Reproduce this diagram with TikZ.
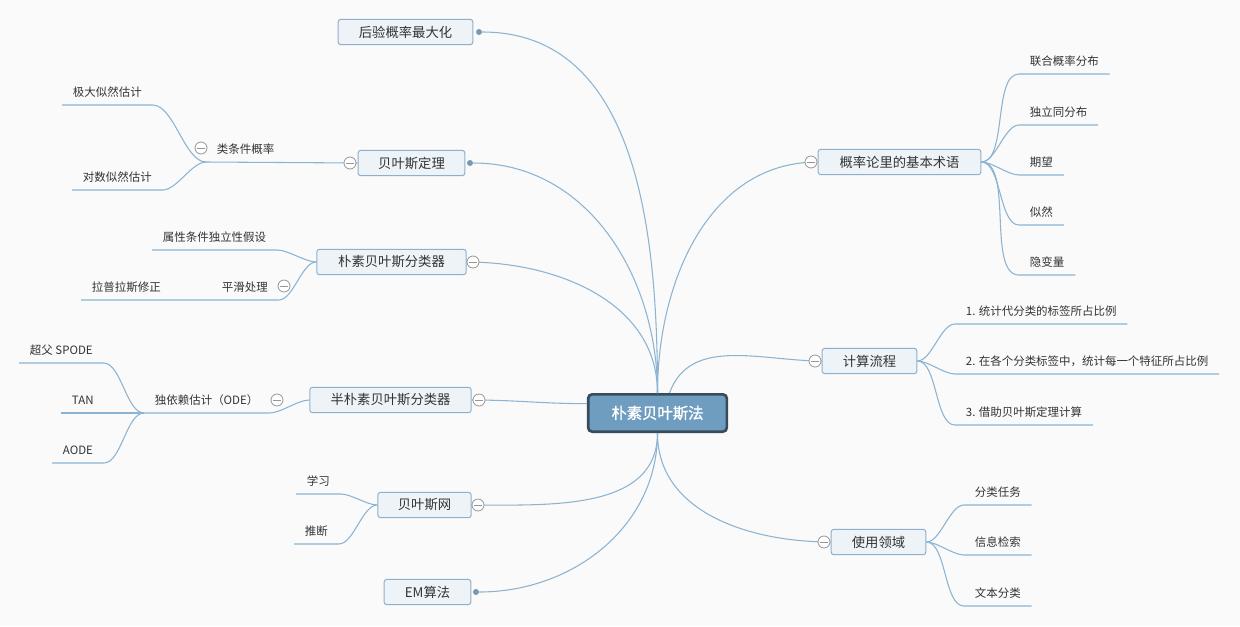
\documentclass[tikz,border=0pt]{standalone}
\usepackage{fontspec}
\usepackage{xcolor}
\usepackage{tikz}
\usetikzlibrary{positioning}
\newfontfamily\cjk{Noto Sans CJK SC}
\newfontfamily\cjkbold{Noto Sans CJK SC}[FakeBold=1.5]
\definecolor{bgcanvas}{RGB}{250,250,250}
\definecolor{mapline}{RGB}{140,180,210}
\definecolor{topicborder}{RGB}{142,176,204}
\definecolor{topicfill}{RGB}{238,243,248}
\definecolor{rootfill}{RGB}{110,157,192}
\definecolor{rootborder}{RGB}{58,76,92}
\definecolor{foldgray}{RGB}{150,150,150}
\definecolor{textdark}{RGB}{51,51,51}

\begin{document}
\begin{tikzpicture}[
    x=0.75pt, y=-0.75pt,
    font=\cjk, text=textdark,
    box_root/.style={rounded corners=3pt, line width=2pt, draw=rootborder, fill=rootfill, text=white, minimum width=104pt, minimum height=28pt, inner sep=0pt, font=\cjkbold\fontsize{11.5}{14}\selectfont},
    box_topic/.style={rounded corners=2pt, line width=0.75pt, draw=topicborder, fill=topicfill, minimum height=19pt, inner sep=0pt, font=\cjk\fontsize{10}{12}\selectfont},
    leaf/.style={anchor=south west, inner xsep=8pt, inner ysep=4.5pt, text height=7pt, text depth=2pt, font=\cjk\fontsize{8.6}{10}\selectfont},
    fold/.style={circle, draw=foldgray, fill=white, line width=0.6pt, minimum size=9pt, inner sep=0pt,
        path picture={\draw[foldgray, line width=0.6pt] ([xshift=1.7pt]path picture bounding box.west) -- ([xshift=-1.7pt]path picture bounding box.east);}},
    dot/.style={circle, fill=mapline!85!black, minimum size=4.5pt, inner sep=0pt},
    link/.style={line width=0.8pt, draw=mapline}
]

% Canvas
\fill[bgcanvas] (0,0) rectangle (1240,626);
\useasboundingbox (0,0) rectangle (1240,626);

% Root
\node[box_root] (root) at (657.5,413) {朴素贝叶斯法};

% Left topics
\node[box_topic, minimum width=101pt] (post) at (405.5,32) {后验概率最大化};
\node[dot] (post_dot) at (479,32) {};

\node[box_topic, minimum width=80pt] (bayes) at (411.5,163) {贝叶斯定理};
\node[dot] (bayes_dot) at (470,163) {};

\node[box_topic, minimum width=112pt] (nbc) at (391.5,262) {朴素贝叶斯分类器};

\node[box_topic, minimum width=121pt] (snbc) at (390.5,400) {半朴素贝叶斯分类器};

\node[box_topic, minimum width=70pt] (bnet) at (424.5,505) {贝叶斯网};

\node[box_topic, minimum width=65pt] (em) at (427.5,592) {EM算法};
\node[dot] (em_dot) at (476,592) {};

% Right topics
\node[box_topic, minimum width=122pt] (terms) at (899.5,162) {概率论里的基本术语};
\node[box_topic, minimum width=71pt] (flow) at (869.5,361) {计算流程};
\node[box_topic, minimum width=71pt] (usage) at (878.5,542) {使用领域};

% Left leaves
\node[leaf] (mle) at (62,105) {极大似然估计};
\node[leaf] (loglik) at (72,190) {对数似然估计};
\node[leaf] (cond) at (206,162) {类条件概率};

\node[leaf] (indep) at (152,250) {属性条件独立性假设};
\node[leaf] (smooth) at (211,300) {平滑处理};
\node[leaf] (laplace) at (81,300) {拉普拉斯修正};

\node[leaf] (ode) at (144,413) {独依赖估计（ODE）};
\node[leaf] (spode) at (19,363) {超父 SPODE};
\node[leaf] (tan) at (61,413) {TAN};
\node[leaf] (aode) at (52,463) {AODE};

\node[leaf] (learn) at (296,494) {学习};
\node[leaf] (infer) at (294,544) {推断};

% Right leaves
\node[leaf] (joint) at (1019,74) {联合概率分布};
\node[leaf] (iid) at (1019,125) {独立同分布};
\node[leaf] (expect) at (1019,175) {期望};
\node[leaf] (like) at (1019,225) {似然};
\node[leaf] (latent) at (1019,275) {隐变量};

\node[leaf] (f1) at (955,324) {1. 统计代分类的标签所占比例};
\node[leaf] (f2) at (955,374) {2. 在各个分类标签中，统计每一个特征所占比例};
\node[leaf] (f3) at (955,425) {3. 借助贝叶斯定理计算};

\node[leaf] (u1) at (964,505) {分类任务};
\node[leaf] (u2) at (964,555) {信息检索};
\node[leaf] (u3) at (964,606) {文本分类};

% Root links
\draw[link] (root.north) to[out=90,in=0] (post_dot);
\draw[link] (root.north) to[out=90,in=0] (bayes_dot);
\draw[link] (root.north) to[out=90,in=0] (nbc.east);
\draw[link] ([yshift=7pt]root.west) to[out=180,in=0] (snbc.east);
\draw[link] (root.south) to[out=-90,in=0] (bnet.east);
\draw[link] (root.south) to[out=-90,in=0] (em_dot);
\draw[link] (root.north) to[out=90,in=180] (terms.west);
\draw[link] ([xshift=9pt]root.north) to[out=70,in=180] (flow.west);
\draw[link] (root.south) to[out=-90,in=180] (usage.west);

% Left branches
\draw[link] (bayes.west) -- (cond.south west);
\draw[link] (cond.south west) to[out=180,in=0,looseness=0.7] (mle.south east) -- (mle.south west);
\draw[link] (cond.south west) to[out=180,in=0,looseness=0.7] (loglik.south east) -- (loglik.south west);

\draw[link] (nbc.west) to[out=180,in=0,looseness=0.7] (indep.south east) -- (indep.south west);
\draw[link] (nbc.west) to[out=180,in=0,looseness=0.7] (smooth.south east) -- (laplace.south west);

\draw[link] (snbc.west) to[out=180,in=0,looseness=0.7] (ode.south east) -- (ode.south west);
\draw[link] (ode.south west) to[out=180,in=0,looseness=0.7] (spode.south east) -- (spode.south west);
\draw[link] (ode.south west) -- (tan.south west);
\draw[link] (ode.south west) to[out=180,in=0,looseness=0.7] (aode.south east) -- (aode.south west);

\draw[link] (bnet.west) to[out=180,in=0,looseness=0.7] (learn.south east) -- (learn.south west);
\draw[link] (bnet.west) to[out=180,in=0,looseness=0.7] (infer.south east) -- (infer.south west);

% Right branches
\foreach \leafname in {joint,iid,expect,like,latent}
    \draw[link] (terms.east) to[out=0,in=180,looseness=0.7] (\leafname.south west) -- (\leafname.south east);
\foreach \leafname in {f1,f2,f3}
    \draw[link] (flow.east) to[out=0,in=180,looseness=0.7] (\leafname.south west) -- (\leafname.south east);
\foreach \leafname in {u1,u2,u3}
    \draw[link] (usage.east) to[out=0,in=180,looseness=0.7] (\leafname.south west) -- (\leafname.south east);

% Fold markers
\node[fold] (bayes_fold) at (350,163) {};
\node[fold] (cond_fold) at (201,148) {};
\node[fold] (nbc_fold) at (473,262) {};
\node[fold] (smooth_fold) at (284,286) {};
\node[fold] (snbc_fold) at (479,400) {};
\node[fold] (ode_fold) at (277,400) {};
\node[fold] (bnet_fold) at (478,505) {};
\node[fold] (terms_fold) at (811,162) {};
\node[fold] (flow_fold) at (815,361) {};
\node[fold] (usage_fold) at (824,542) {};

\end{tikzpicture}
\end{document}
